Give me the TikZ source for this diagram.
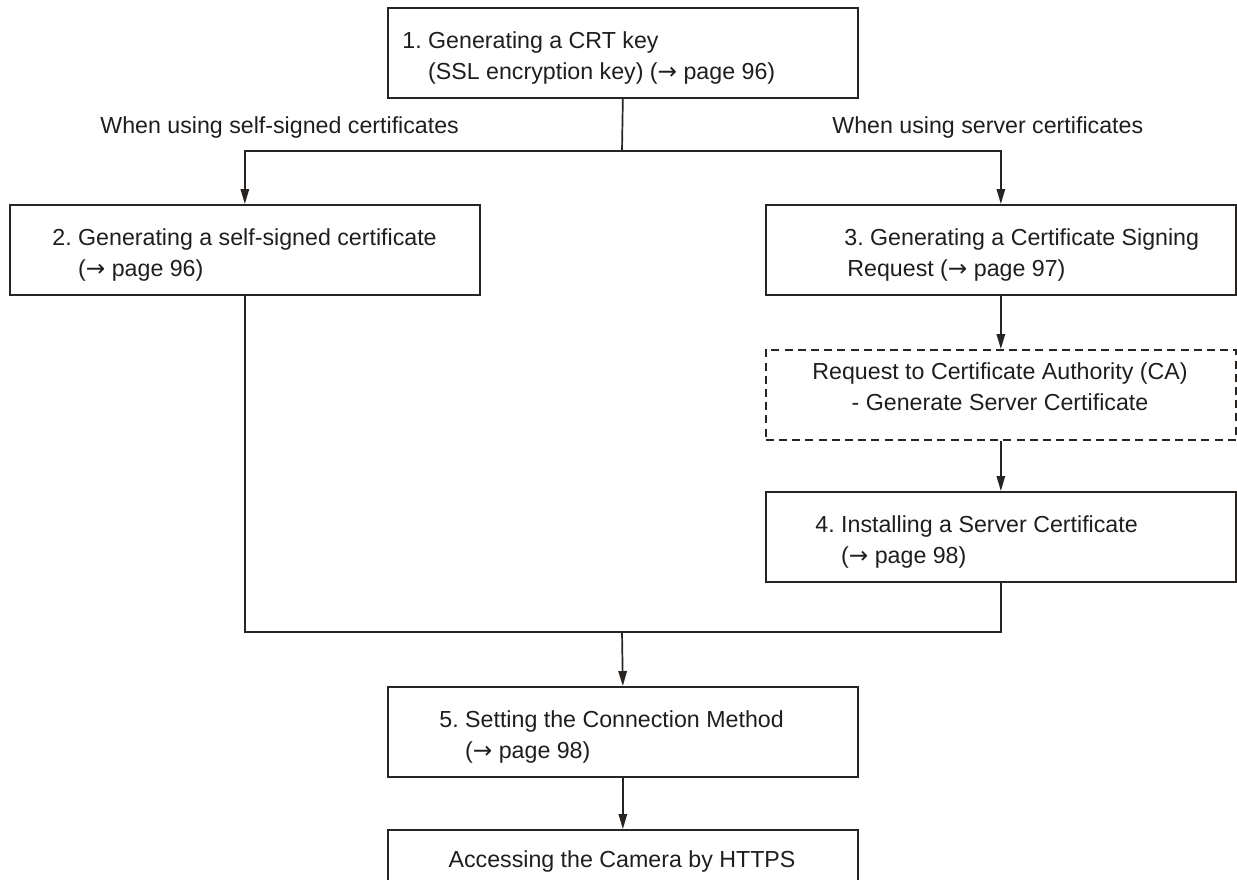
\documentclass[tikz,border=0pt]{standalone}
\usepackage{fontspec}
\setmainfont{Liberation Sans}
\newfontfamily\arrowfont{DejaVu Sans}
\newcommand{\rarr}{{\arrowfont →}}
\usetikzlibrary{arrows.meta}
\definecolor{ln}{RGB}{40,36,34}
\definecolor{tx}{RGB}{30,30,30}
\begin{document}
\frenchspacing
\begin{tikzpicture}[x=0.5pt,y=-0.5pt,
  box/.style={draw=ln, line width=0.85pt, rectangle, minimum width=235pt, minimum height=45pt, inner sep=0pt, anchor=north west},
  dbox/.style={box, dash pattern=on 4pt off 2.6pt},
  lbl/.style={font=\fontsize{11.6}{14}\selectfont\frenchspacing, text=tx, inner sep=0pt, anchor=base west},
  clbl/.style={lbl, anchor=base},
  conn/.style={draw=ln, line width=0.85pt},
  arr/.style={conn, -{Triangle[length=7.5pt,width=4.2pt]}}
]
\useasboundingbox (0,0) rectangle (1237,879);
% boxes
\node[box] (b1) at (387,7) {};
\node[box] (b2) at (9,204) {};
\node[box] (b3) at (765,204) {};
\node[dbox] (ca) at (765,349) {};
\node[box] (b4) at (765,491) {};
\node[box] (b5) at (387,686) {};
\node[box] (b6) at (387,829) {};
% texts
\node[lbl] (t1a) at (402,48) {1. Generating a CRT key};
\node[lbl] (t1b) at (402,79) {\hphantom{1.\ }(SSL encryption key) (\rarr\ page 96)};
\node[lbl] (t2a) at (52,245) {2. Generating a self-signed certificate};
\node[lbl] (t2b) at (52,276) {\hphantom{2.\ }(\rarr\ page 96)};
\node[lbl] (t3a) at (844,245) {3. Generating a Certificate Signing};
\node[lbl] (t3b) at (847,276) {Request (\rarr\ page 97)};
\node[clbl] (tca) at (1000,379) {Request to Certificate Authority (CA)};
\node[clbl] (tcb) at (1000,410) {- Generate Server Certificate};
\node[lbl] (t4a) at (815,532) {4. Installing a Server Certificate};
\node[lbl] (t4b) at (815,563) {\hphantom{4.\ }(\rarr\ page 98)};
\node[lbl] (t5a) at (439,727) {5. Setting the Connection Method};
\node[lbl] (t5b) at (439,758) {\hphantom{5.\ }(\rarr\ page 98)};
\node[clbl] (t6) at (622,867) {Accessing the Camera by HTTPS};
\node[lbl] (la) at (100,133) {When using self-signed certificates};
\node[lbl] (lb) at (832,133) {When using server certificates};
% connectors
\coordinate (split) at (622,151);
\coordinate (merge) at (622,632);
\draw[conn] (b1.south) -- (split);
\draw[arr] (split) -| (b2.north);
\draw[arr] (split) -| (b3.north);
\draw[arr] (b3.south) -- (ca.north);
\draw[arr] (ca.south) -- (b4.north);
\draw[conn] (b2.south) |- (merge);
\draw[conn] (b4.south) |- (merge);
\draw[arr] (merge) -- (b5.north);
\draw[arr] (b5.south) -- (b6.north);
\end{tikzpicture}
\end{document}
